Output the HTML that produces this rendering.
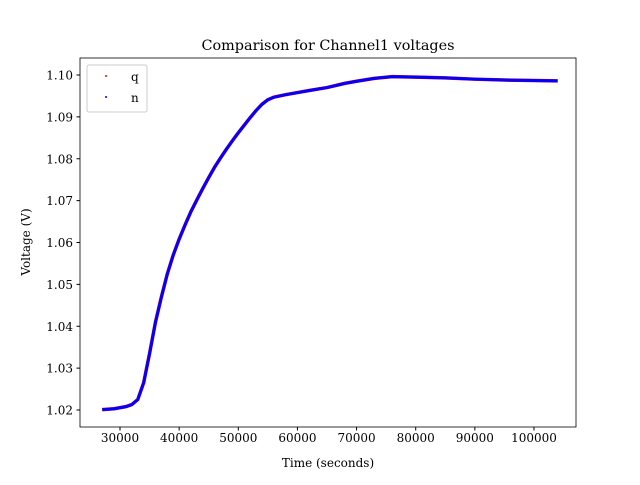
<!DOCTYPE html>
<html><head><meta charset="utf-8"><style>
body{margin:0;background:#fff}
text{font-family:"DejaVu Serif","Liberation Serif",serif;fill:#000}
</style></head><body>
<svg id="chart" width="640" height="480" xmlns="http://www.w3.org/2000/svg">
<rect width="640" height="480" fill="#fff"/>
<g id="plot"></g>
<rect x="80" y="58" width="496" height="369" fill="none" stroke="#000" stroke-width="0.8"/>
<g id="xticks"></g>
<g id="yticks"></g>
<text x="328" y="50" font-size="14.4" text-anchor="middle">Comparison for Channel1 voltages</text>
<text x="328" y="467" font-size="12" text-anchor="middle">Time (seconds)</text>
<text x="30" y="242" font-size="12" text-anchor="middle" transform="rotate(-90 30 242)">Voltage (V)</text>
<g>
<rect x="87" y="65" width="60" height="47" rx="2" fill="#fff" fill-opacity="0.8" stroke="#ccc"/>
<circle cx="106" cy="76" r="1" fill="red"/>
<text x="131" y="81" font-size="12">q</text>
<circle cx="106" cy="97" r="1" fill="blue"/>
<text x="131" y="102" font-size="12">n</text>
</g>
</svg>
<script>
const times=[27000,29000,31000,32000,33000,34000,35000,36000,37000,38000,39000,40000,41000,42000,43000,44000,45000,46000,47000,48000,49000,50000,51000,52000,53000,54000,55000,56000,58000,60000,62000,65000,68000,70000,73000,76000,80000,85000,90000,95000,100000,104000];
const voltsN=[1.0201,1.0203,1.0208,1.0213,1.0225,1.0265,1.0335,1.0410,1.0470,1.0525,1.0570,1.0608,1.0642,1.0674,1.0702,1.0729,1.0755,1.0780,1.0802,1.0823,1.0843,1.0862,1.0880,1.0898,1.0915,1.0930,1.0941,1.0947,1.0953,1.0958,1.0963,1.0970,1.0980,1.0985,1.0992,1.0996,1.0995,1.0993,1.0990,1.0988,1.0987,1.0986];
const voltsQ=voltsN.slice();
const xTicks=[30000,40000,50000,60000,70000,80000,90000,100000];
const yTicks=[1.02,1.03,1.04,1.05,1.06,1.07,1.08,1.09,1.10];
const X=v=>120+(v-30000)*414/70000;
const Y=v=>410-(v-1.02)*335/0.08;
const NS="http://www.w3.org/2000/svg";
const plot=document.getElementById('plot');
function line(arr,color,w,name){
 const p=document.createElementNS(NS,'polyline');
 p.setAttribute('points',times.map((t,i)=>X(t)+','+Y(arr[i])).join(' '));
 p.setAttribute('fill','none');p.setAttribute('stroke',color);p.setAttribute('stroke-width',w);
 p.setAttribute('stroke-linejoin','round');
 
 
 plot.appendChild(p);
}
line(voltsQ,'red',3.5,'series-q');
line(voltsN,'blue',3,'series-n');
const xg=document.getElementById('xticks');
xTicks.forEach(v=>{
 const l=document.createElementNS(NS,'line');
 l.setAttribute('x1',X(v));l.setAttribute('x2',X(v));l.setAttribute('y1',427);l.setAttribute('y2',430.5);l.setAttribute('stroke','#000');
 
 
 xg.appendChild(l);
 const t=document.createElementNS(NS,'text');
 t.setAttribute('x',X(v));t.setAttribute('y',442);t.setAttribute('font-size','12');t.setAttribute('text-anchor','middle');
 t.textContent=v;
 
 
 xg.appendChild(t);
});
const yg=document.getElementById('yticks');
yTicks.forEach(v=>{
 const l=document.createElementNS(NS,'line');
 l.setAttribute('x1',76.5);l.setAttribute('x2',80);l.setAttribute('y1',Y(v));l.setAttribute('y2',Y(v));l.setAttribute('stroke','#000');
 
 
 yg.appendChild(l);
 const t=document.createElementNS(NS,'text');
 t.setAttribute('x',73);t.setAttribute('y',Y(v)+4.5);t.setAttribute('font-size','12');t.setAttribute('text-anchor','end');
 t.textContent=v.toFixed(2);
 
 
 yg.appendChild(t);
});
</script>
</body></html>
